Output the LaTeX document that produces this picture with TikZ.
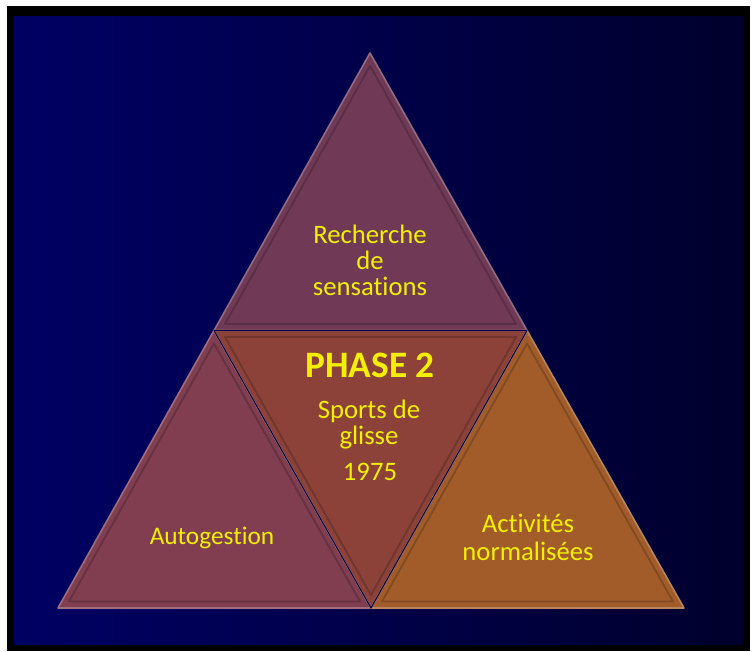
\documentclass[tikz,border=0pt]{standalone}
\usepackage{fontspec}
\setmainfont{Carlito}[Ligatures=NoCommon]
\usetikzlibrary{calc}

\definecolor{bgleft}{RGB}{0,0,100}
\definecolor{bgright}{RGB}{0,0,45}
\definecolor{topcol}{RGB}{112,58,86}
\definecolor{leftcol}{RGB}{128,62,80}
\definecolor{midcol}{RGB}{140,66,56}
\definecolor{rightcol}{RGB}{162,92,42}
\definecolor{txtyellow}{RGB}{242,240,0}

\begin{document}
\begin{tikzpicture}
  [
  x=0.75pt, y=-0.75pt,
  face/.style={line join=round, draw=#1!75!white, line width=1.2pt, fill=#1},
  bevel/.style={line join=round, draw=#1!80!black, line width=1.4pt},
  label/.style={text=txtyellow, align=center, font=\fontsize{20}{24}\selectfont},
  ]

  % frame and background
  \fill[white] (0,0) rectangle (756,651);
  \fill[black] (7,6) rectangle (750,651);
  \shade[left color=bgleft, right color=bgright] (14,16) rectangle (743,644);

  % corners of the big triangle
  \coordinate (apex) at (370,53);
  \coordinate (bl) at (58,608);
  \coordinate (br) at (684,608);
  \coordinate (ml) at ($(apex)!0.5!(bl)$);
  \coordinate (mr) at ($(apex)!0.5!(br)$);
  \coordinate (bm) at ($(bl)!0.5!(br)$);

  % the four faces with an inset bevel
  \foreach \a/\b/\c/\col in {apex/ml/mr/topcol, ml/bl/bm/leftcol, mr/bm/br/rightcol, ml/mr/bm/midcol} {
    \coordinate (g) at ($1/3*(\a)+1/3*(\b)+1/3*(\c)$);
    \draw[face=\col] (\a) -- (\b) -- (\c) -- cycle;
    \draw[bevel=\col] ($(g)!0.93!(\a)$) -- ($(g)!0.93!(\b)$) -- ($(g)!0.93!(\c)$) -- cycle;
  }
  \draw[bgleft!70!black, line width=0.8pt, line join=round] (ml) -- (mr) -- (bm) -- cycle;

  \node[label] (sens) at (370,260) {Recherche\\[-4.5pt]de\\[-4.5pt]sensations};
  \node[label, font=\fontsize{28}{30}\bfseries] (phase) at (370,365) {PHASE 2};
  \node[label] (glisse) at (369,425) {Sports de\\[-4.5pt]glisse};
  \node[label] (annee) at (370,472) {1975};
  \node[label, font=\fontsize{19}{24}\selectfont] (auto) at (212,538) {Autogestion};
  \node[label] (norm) at (528,537) {Activités\\[-3pt]normalisées};
\end{tikzpicture}
\end{document}
